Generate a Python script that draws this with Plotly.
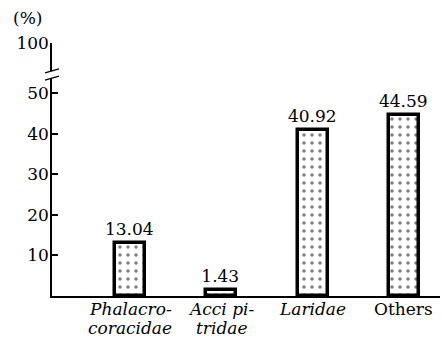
import plotly.graph_objects as go

categories = ["Phalacrocoracidae", "Accipitridae", "Laridae", "Others"]
label_line1 = ["<i>Phalacro-</i>", "<i>Acci pi-</i>", "<i>Laridae</i>", "Others"]
label_line2 = ["<i>coracidae</i>", "<i>tridae</i>", "", ""]
values = [13.04, 1.43, 40.92, 44.59]
value_labels = ["13.04", "1.43", "40.92", "44.59"]
y_tick_vals = [10, 20, 30, 40, 50, 62.35]
y_tick_text = ["10", "20", "30", "40", "50", "100"]

FONT = "DejaVu Serif"
x_pos = list(range(len(categories)))

fig = go.Figure()
fig.add_trace(go.Bar(
    x=x_pos, y=values,
    width=0.33,
    marker=dict(color="white",
                line=dict(color="black", width=3.5),
                pattern=dict(shape=".", fgcolor="black", bgcolor="white",
                             size=8, solidity=0.15)),
    text=value_labels, textposition="outside", cliponaxis=False,
    constraintext="none",
    textfont=dict(family=FONT, size=17, color="black"),
    showlegend=False,
))

# category labels as two lines
for xi, l1, l2 in zip(x_pos, label_line1, label_line2):
    fig.add_annotation(text=l1, x=xi, xref="x", y=-0.05, yref="paper",
                       xanchor="center", yanchor="middle", showarrow=False,
                       font=dict(family=FONT, size=17, color="black"))
    if l2:
        fig.add_annotation(text=l2, x=xi, xref="x", y=-0.125, yref="paper",
                           xanchor="center", yanchor="middle", showarrow=False,
                           font=dict(family=FONT, size=17, color="black"))

# axis break marks
fig.add_shape(type="rect", xref="paper", yref="y", x0=-0.02, x1=0.02, y0=53.6, y1=55.4,
              fillcolor="white", line=dict(width=0), layer="above")
fig.add_shape(type="line", xref="paper", yref="y", x0=-0.018, x1=0.018, y0=55.0, y1=56.0,
              line=dict(color="black", width=1.3), layer="above")
fig.add_shape(type="line", xref="paper", yref="y", x0=-0.018, x1=0.018, y0=53.2, y1=54.2,
              line=dict(color="black", width=1.3), layer="above")

fig.add_annotation(text="(%)", xref="paper", yref="paper", x=-0.105, y=1.1,
                   xanchor="left", yanchor="middle", showarrow=False,
                   font=dict(family=FONT, size=17, color="black"))

fig.update_layout(
    width=442, height=342,
    margin=dict(l=52, r=2, t=43, b=46),
    paper_bgcolor="white", plot_bgcolor="white",
    font=dict(family=FONT, size=17, color="black"),
    xaxis=dict(range=[-0.857, 3.396], showticklabels=False, ticks="",
               showline=True, linecolor="black", automargin=False,
               linewidth=1.5, showgrid=False, zeroline=False),
    yaxis=dict(range=[0, 62.35], tickvals=y_tick_vals, ticktext=y_tick_text,
               ticks="inside", ticklen=6, tickwidth=1.5, tickcolor="black",
               showline=True, linecolor="black", linewidth=1.5, automargin=False,
               showgrid=False, zeroline=False, ticklabelstandoff=-2,
               tickfont=dict(family=FONT, size=17, color="black")),
    bargap=0,
)

fig.write_html("out.html", config={"displayModeBar": False},
               post_script="document.body.style.margin='0';document.body.style.overflow='hidden';")
